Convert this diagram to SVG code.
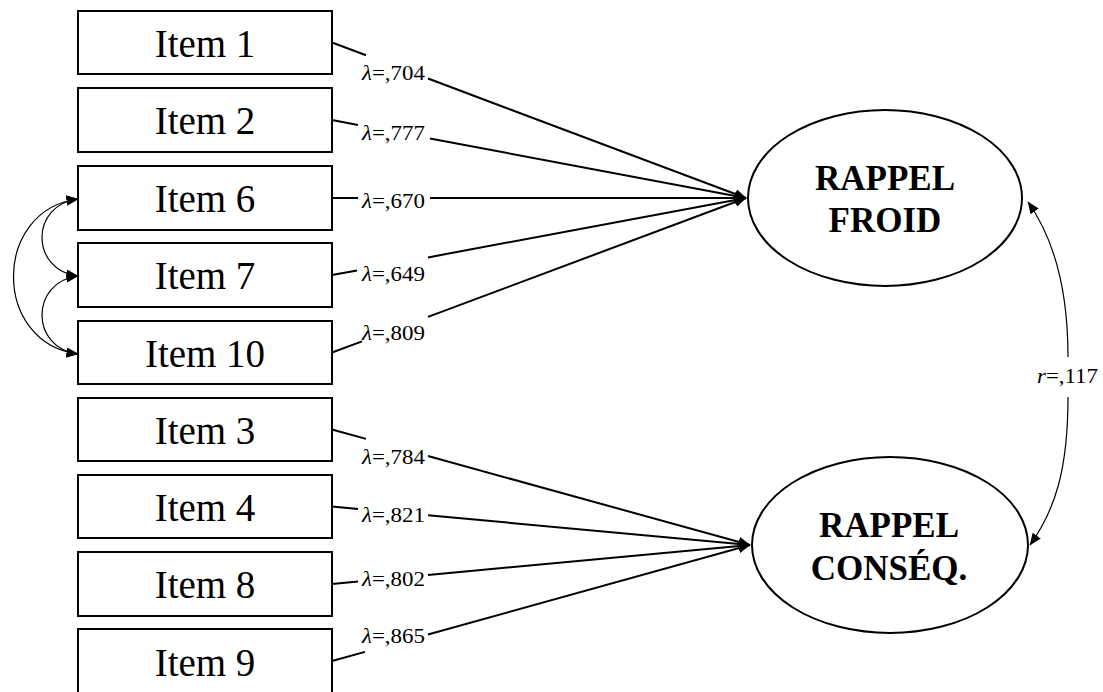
<svg xmlns="http://www.w3.org/2000/svg" width="1103" height="692" viewBox="0 0 1103 692">
  <style>
    .box { fill: #fff; stroke: #000; stroke-width: 2; }
    .item { font-family: "Liberation Serif", "Times New Roman", serif; font-size: 39px; text-anchor: middle; fill: #000; }
    .latent { fill: #fff; stroke: #000; stroke-width: 2; }
    .ltext { font-family: "Liberation Serif", "Times New Roman", serif; font-size: 35px; font-weight: bold; text-anchor: middle; fill: #000; }
    .load { fill: none; stroke: #000; stroke-width: 2; }
    .cov { fill: none; stroke: #000; stroke-width: 1.2; }
    .lab { font-family: "Liberation Serif", "Times New Roman", serif; font-size: 20px; fill: #000; }
    .it { font-style: italic; }
  </style>
  <defs>
    <marker id="headBig" markerUnits="userSpaceOnUse" markerWidth="13" markerHeight="11" refX="11.5" refY="5" orient="auto">
      <path d="M0,0 L12,5 L0,10 z" fill="#000"/>
    </marker>
    <marker id="headSmall" markerUnits="userSpaceOnUse" markerWidth="13" markerHeight="11" refX="11.5" refY="5" orient="auto-start-reverse">
      <path d="M0,0 L12,5 L0,10 z" fill="#000"/>
    </marker>
  </defs>
  <rect width="1103" height="692" fill="#fff"/>

  <!-- observed items -->
  <g id="item1"><rect class="box" x="78" y="11" width="254" height="63"/><text class="item" x="205" y="57">Item 1</text></g>
  <g id="item2"><rect class="box" x="78" y="88" width="254" height="64"/><text class="item" x="205" y="134">Item 2</text></g>
  <g id="item6"><rect class="box" x="78" y="166" width="254" height="64"/><text class="item" x="205" y="212">Item 6</text></g>
  <g id="item7"><rect class="box" x="78" y="243" width="254" height="64"/><text class="item" x="205" y="289">Item 7</text></g>
  <g id="item10"><rect class="box" x="78" y="321" width="254" height="63"/><text class="item" x="205" y="367">Item 10</text></g>
  <g id="item3"><rect class="box" x="78" y="398" width="254" height="63"/><text class="item" x="205" y="444">Item 3</text></g>
  <g id="item4"><rect class="box" x="78" y="475" width="254" height="63"/><text class="item" x="205" y="521">Item 4</text></g>
  <g id="item8"><rect class="box" x="78" y="552" width="254" height="64"/><text class="item" x="205" y="598">Item 8</text></g>
  <g id="item9"><rect class="box" x="78" y="629" width="254" height="66"/><text class="item" x="205" y="676">Item 9</text></g>

  <!-- latent factors -->
  <g id="rappel-froid">
    <ellipse class="latent" cx="885" cy="198" rx="137" ry="88"/>
    <text class="ltext" x="885" y="190">RAPPEL</text>
    <text class="ltext" x="885" y="232">FROID</text>
  </g>
  <g id="rappel-conseq">
    <ellipse class="latent" cx="890" cy="545" rx="138" ry="88"/>
    <text class="ltext" x="889" y="537">RAPPEL</text>
    <text class="ltext" x="889" y="580">CONSÉQ.</text>
  </g>

  <!-- connectors -->
  <g id="connectors">
    <!-- loadings on RAPPEL FROID -->
    <path class="load" d="M332,42.5 L366,55.3"/>
    <path class="load" d="M428,78.5 L746,198" marker-end="url(#headBig)"/>
    <path class="load" d="M332,120 L358,124.9"/>
    <path class="load" d="M430,138.5 L746,198" marker-end="url(#headBig)"/>
    <path class="load" d="M332,198 L358,198"/>
    <path class="load" d="M430,198 L746,198" marker-end="url(#headBig)"/>
    <path class="load" d="M332,275 L357,270.4"/>
    <path class="load" d="M428,257.4 L746,198" marker-end="url(#headBig)"/>
    <path class="load" d="M332,352.5 L362,341.4"/>
    <path class="load" d="M428,316.9 L746,198" marker-end="url(#headBig)"/>

    <!-- loadings on RAPPEL CONSÉQ. -->
    <path class="load" d="M332,429.5 L366,438.9"/>
    <path class="load" d="M428,456 L750,545" marker-end="url(#headBig)"/>
    <path class="load" d="M332,506.5 L358,508.9"/>
    <path class="load" d="M428,515.3 L750,545" marker-end="url(#headBig)"/>
    <path class="load" d="M332,584 L358,581.6"/>
    <path class="load" d="M428,575 L750,545" marker-end="url(#headBig)"/>
    <path class="load" d="M332,661 L365,651.9"/>
    <path class="load" d="M428,634.5 L750,545" marker-end="url(#headBig)"/>

    <!-- residual covariances -->
    <path class="cov" d="M78,199 C 30,205 30,270 78,276" marker-start="url(#headSmall)" marker-end="url(#headSmall)"/>
    <path class="cov" d="M78,276 C 30,282 30,348 78,354" marker-start="url(#headSmall)" marker-end="url(#headSmall)"/>
    <path class="cov" d="M78,199 C -8,210 -8,343 78,354" marker-start="url(#headSmall)" marker-end="url(#headSmall)"/>

    <!-- factor correlation -->
    <path class="cov" d="M1068,357 C 1068,290 1055,240 1028,202" marker-end="url(#headSmall)"/>
    <path class="cov" d="M1068,397 C 1068,470 1055,510 1030,545" marker-end="url(#headSmall)"/>

    <!-- labels -->
    <text class="lab" x="362" y="80" textLength="63" lengthAdjust="spacingAndGlyphs"><tspan class="it">λ</tspan>=,704</text>
    <text class="lab" x="362" y="140" textLength="63" lengthAdjust="spacingAndGlyphs"><tspan class="it">λ</tspan>=,777</text>
    <text class="lab" x="362" y="208" textLength="63" lengthAdjust="spacingAndGlyphs"><tspan class="it">λ</tspan>=,670</text>
    <text class="lab" x="362" y="281" textLength="63" lengthAdjust="spacingAndGlyphs"><tspan class="it">λ</tspan>=,649</text>
    <text class="lab" x="362" y="340" textLength="63" lengthAdjust="spacingAndGlyphs"><tspan class="it">λ</tspan>=,809</text>
    <text class="lab" x="362" y="464" textLength="63" lengthAdjust="spacingAndGlyphs"><tspan class="it">λ</tspan>=,784</text>
    <text class="lab" x="362" y="522" textLength="63" lengthAdjust="spacingAndGlyphs"><tspan class="it">λ</tspan>=,821</text>
    <text class="lab" x="362" y="586" textLength="63" lengthAdjust="spacingAndGlyphs"><tspan class="it">λ</tspan>=,802</text>
    <text class="lab" x="362" y="643" textLength="63" lengthAdjust="spacingAndGlyphs"><tspan class="it">λ</tspan>=,865</text>
    <text class="lab" x="1037" y="383" textLength="61" lengthAdjust="spacingAndGlyphs"><tspan class="it">r</tspan>=,117</text>
  </g>
</svg>
